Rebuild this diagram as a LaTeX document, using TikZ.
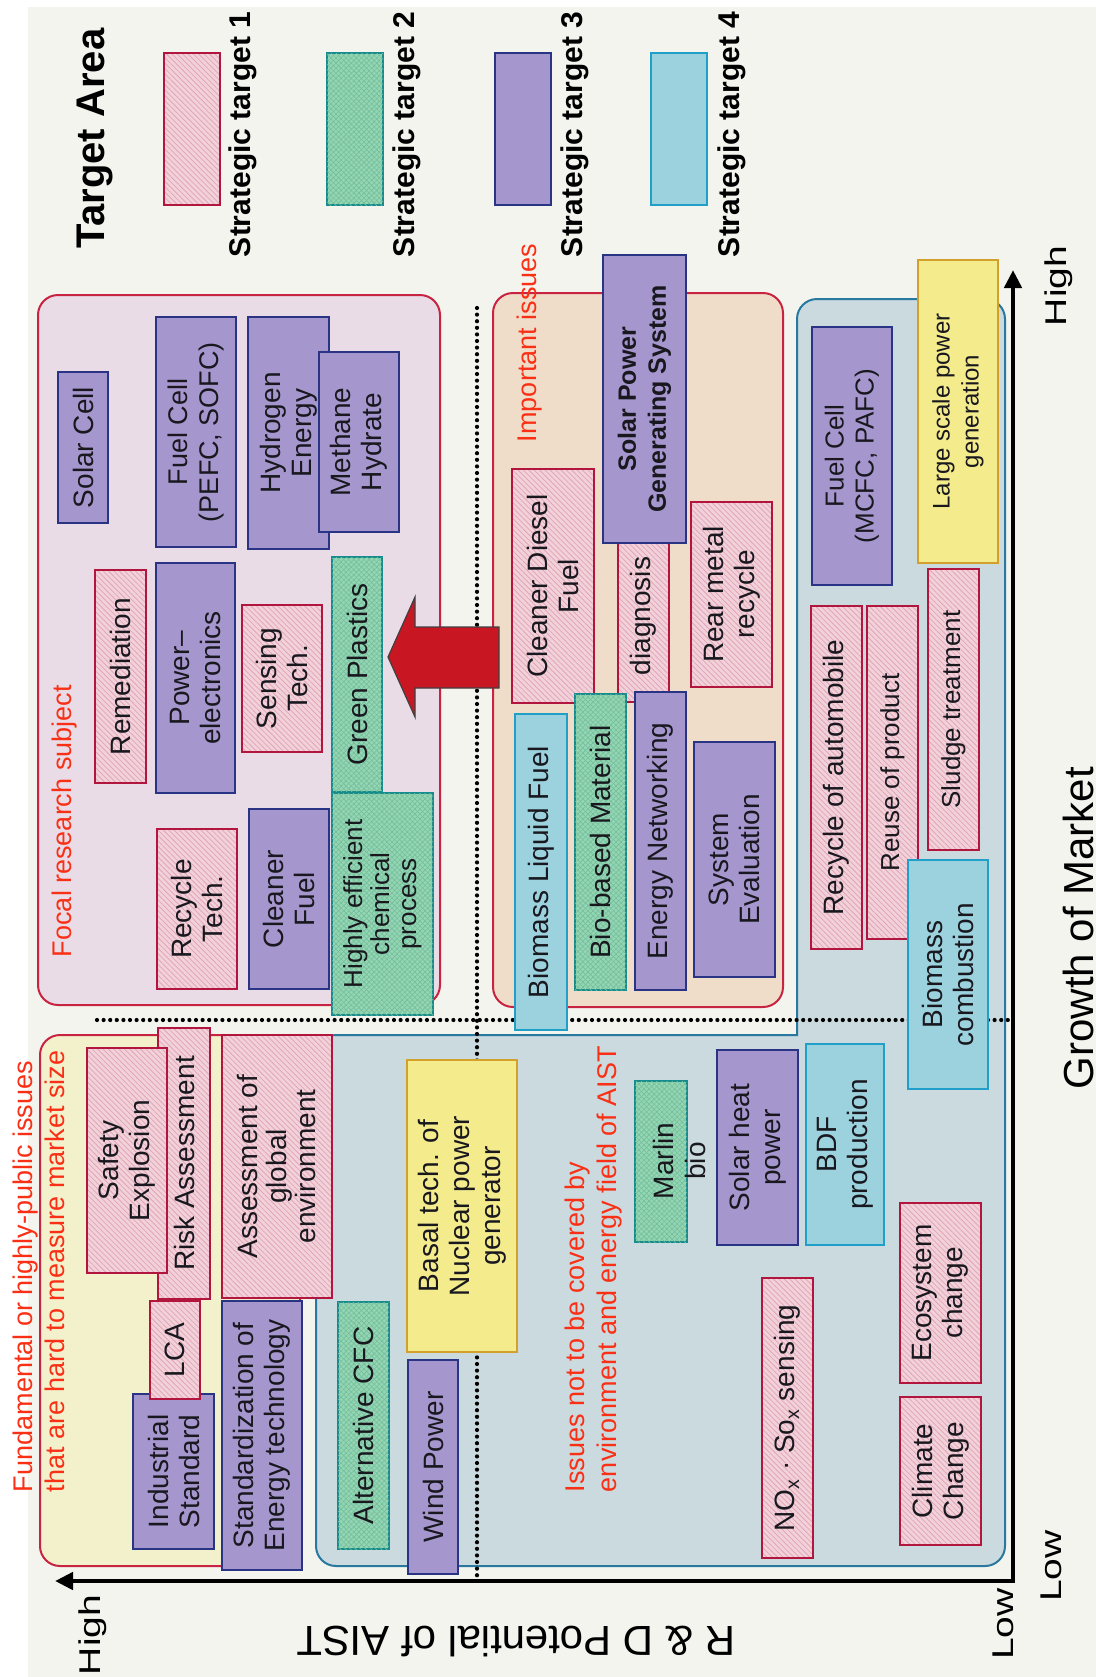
\documentclass[tikz,border=0pt]{standalone}
\usepackage{fontspec}
\setmainfont{Liberation Sans}
\newfontfamily\widefont{Liberation Sans}[FakeStretch=1.3]
\usetikzlibrary{arrows.meta,patterns.meta}

\definecolor{paper}{RGB}{244,244,239}
\definecolor{pinkfill}{RGB}{242,210,218}
\definecolor{pinkhatch}{RGB}{226,164,182}
\definecolor{pinkline}{RGB}{178,22,62}
\definecolor{greenfill}{RGB}{148,214,180}
\definecolor{greenhatch}{RGB}{116,190,156}
\definecolor{greenline}{RGB}{22,140,140}
\definecolor{purplefill}{RGB}{166,150,206}
\definecolor{purpleline}{RGB}{42,52,132}
\definecolor{cyanfill}{RGB}{156,210,222}
\definecolor{cyanline}{RGB}{32,160,200}
\definecolor{yellowfill}{RGB}{243,235,140}
\definecolor{yellowline}{RGB}{212,160,44}
\definecolor{focalfill}{RGB}{233,220,231}
\definecolor{peachfill}{RGB}{240,221,201}
\definecolor{bluereg}{RGB}{202,218,222}
\definecolor{bluerim}{RGB}{40,120,160}
\definecolor{fundfill}{RGB}{243,241,204}
\definecolor{regionrim}{RGB}{200,36,66}
\definecolor{arrowred}{RGB}{200,22,34}
\definecolor{redtext}{RGB}{250,48,22}
\definecolor{ink}{RGB}{24,24,30}

\newcommand\bxf{\fontsize{14}{15.5}\selectfont}

\tikzset{
  every node/.style={inner sep=0pt,outer sep=0pt},
  box/.style={rotate=90,align=center,line width=1.1pt,font=\bxf,text=ink},
  pinkbox/.style={box,draw=pinkline,preaction={fill=pinkfill},
    pattern={Lines[angle=-45,distance=1.9pt,line width=0.4pt]},pattern color=pinkhatch},
  greenbox/.style={box,draw=greenline,preaction={fill=greenfill},
    pattern={Lines[angle=45,distance=1.8pt,line width=0.3pt]},pattern color=greenhatch,
    postaction={pattern={Lines[angle=-45,distance=1.8pt,line width=0.3pt]},pattern color=greenhatch}},
  purplebox/.style={box,draw=purpleline,fill=purplefill},
  cyanbox/.style={box,draw=cyanline,fill=cyanfill},
  yellowbox/.style={box,draw=yellowline,fill=yellowfill},
  region/.style={line width=1pt,rounded corners=10pt},
  redlabel/.style={rotate=90,anchor=west,align=left,text=redtext,
    font=\fontsize{13.5}{16}\selectfont},
  legendtext/.style={rotate=90,anchor=west,text=black,
    font=\bfseries\fontsize{15}{18}\selectfont},
  ticklabel/.style={rotate=90,text=black,font=\widefont\fontsize{15}{18}\selectfont},
  dotline/.style={line width=2.1pt,dash pattern=on 0pt off 3.3pt,line cap=round},
  axis/.style={line width=2.3pt,line join=miter,
    {Triangle[length=9pt,width=8.5pt]}-{Triangle[length=9pt,width=8.5pt]}},
}

% box: [extra]{style}{name}{x1}{y1}{x2}{y2}{text}, text turned a quarter turn
\newcommand\tb[8][]{\node[#2,minimum width={(#7-#5)*0.5pt},
  minimum height={(#6-#4)*0.5pt},#1] (#3) at ({(#4+#6)/2},{(#5+#7)/2}) {#8};}

\begin{document}
\begin{tikzpicture}[x=0.5pt,y=-0.5pt]
\useasboundingbox (0,0) rectangle (1096,1677);
\fill[white] (0,0) rectangle (1096,1677);
\fill[paper] (28,7) rectangle (1096,1677);

% ---- legend
\node[rotate=90,anchor=west,font=\bfseries\fontsize{20}{24}\selectfont] (legendtitle) at (95,248) {Target Area};
\tb{pinkbox}{leg1}{164}{53}{220}{205}{}
\tb{greenbox}{leg2}{327}{53}{383}{205}{}
\tb{purplebox}{leg3}{495}{53}{551}{205}{}
\tb{cyanbox}{leg4}{651}{53}{707}{205}{}
\node[legendtext] (legt1) at (243,257) {Strategic target 1};
\node[legendtext] (legt2) at (407,257) {Strategic target 2};
\node[legendtext] (legt3) at (575,257) {Strategic target 3};
\node[legendtext] (legt4) at (732,257) {Strategic target 4};

% ---- areas
\draw[region,draw=regionrim,fill=focalfill] (38,295) rectangle (440,1005);
\draw[region,draw=regionrim,fill=peachfill] (493,293) rectangle (783,1007);
\draw[region,draw=regionrim,fill=fundfill] (40,1035) rectangle (300,1566);
\draw[region,draw=bluerim,fill=bluereg,line cap=rect]
  (797,1035) -- (797,299) -- (1005,299) -- (1005,1566) -- (316,1566) -- (316,1035) -- (797,1035);

% ---- dividing dotted lines
\coordinate (vtop) at (477,308);
\coordinate (vbot) at (477,1576);
\coordinate (hleft) at (97,1020);
\coordinate (hright) at (1010,1020);
\draw[dotline] (vtop) -- (vbot);
\draw[dotline] (hleft) -- (hright);

% ---- area captions
\node[redlabel] (focalcap) at (65,957) {Focal research subject};
\node[redlabel] (importantcap) at (530,442) {Important issues};
\node[redlabel] (notcoveredcap) at (594,1492) {Issues not to be covered by\\environment and energy field of AIST};
\node[redlabel] (fundcap) at (39,1492) {Fundamental or highly-public issues\\that are hard to measure market size};

% ---- focal research subject
\tb{purplebox}{solarcell}{58}{372}{108}{523}{Solar Cell}
\tb[font=\fontsize{13.5}{15.5}\selectfont]{purplebox}{fuelcellpe}{156}{317}{236}{547}{Fuel Cell\\(PEFC, SOFC)}
\tb{purplebox}{hydrogen}{248}{317}{329}{549}{Hydrogen\\Energy}
\tb{purplebox}{methane}{319}{352}{399}{532}{Methane\\Hydrate}
\tb{pinkbox}{remediation}{95}{570}{146}{783}{Remediation}
\tb{purplebox}{powerel}{156}{563}{235}{793}{Power–\\electronics}
\tb{pinkbox}{sensing}{242}{605}{322}{752}{Sensing\\Tech.}
\tb{greenbox}{greenplastics}{332}{557}{382}{792}{Green Plastics}
\tb{pinkbox}{recycletech}{157}{829}{237}{989}{Recycle\\Tech.}
\tb{purplebox}{cleanerfuel}{249}{809}{329}{989}{Cleaner\\Fuel}
\tb[font=\fontsize{13}{13.5}\selectfont]{greenbox}{chemproc}{332}{793}{433}{1015}{Highly efficient\\chemical\\process}

% ---- important issues
\tb{pinkbox}{cleanerdiesel}{512}{469}{594}{703}{Cleaner Diesel\\Fuel}
\tb{pinkbox}{diagnosis}{618}{530}{669}{702}{diagnosis}
\tb[font=\bfseries\fontsize{12.5}{15}\selectfont]{purplebox}{solarpower}{603}{255}{686}{543}{Solar Power\\Generating System}
\tb{pinkbox}{rearmetal}{691}{502}{772}{687}{Rear metal\\recycle}
\tb{cyanbox}{bioliquid}{515}{714}{567}{1030}{Biomass Liquid Fuel}
\tb{greenbox}{biomaterial}{575}{694}{626}{990}{Bio-based Material}
\tb{purplebox}{energynet}{635}{692}{686}{990}{Energy Networking}
\tb{purplebox}{syseval}{694}{742}{775}{977}{System\\Evaluation}

% ---- market-side issues
\tb[font=\fontsize{13}{15}\selectfont]{purplebox}{fuelcellmc}{812}{327}{892}{585}{Fuel Cell\\(MCFC, PAFC)}
\tb[font=\fontsize{12}{14.5}\selectfont]{yellowbox}{largescale}{918}{260}{998}{563}{Large scale power\\generation}
\tb{pinkbox}{recycleauto}{811}{606}{862}{949}{Recycle of automobile}
\tb[font=\fontsize{13}{15}\selectfont]{pinkbox}{reuse}{867}{606}{918}{939}{Reuse of product}
\tb[font=\fontsize{13}{15}\selectfont]{pinkbox}{sludge}{928}{569}{979}{850}{Sludge treatment}
\tb{cyanbox}{biocomb}{908}{860}{988}{1089}{Biomass\\combustion}

% ---- issues outside the field
\tb{greenbox}{marlin}{635}{1081}{687}{1242}{}
\node[rotate=90,align=center,font=\fontsize{14}{16}\selectfont,text=ink] (marlintext) at (679,1161) {Marlin\\bio};
\tb{purplebox}{solarheat}{717}{1050}{798}{1245}{Solar heat\\power}
\tb{cyanbox}{bdf}{806}{1044}{884}{1245}{BDF\\production}
\tb{pinkbox}{noxsox}{762}{1278}{813}{1558}{NO\textsubscript{x} · So\textsubscript{x} sensing}
\tb{pinkbox}{ecosystem}{900}{1203}{981}{1383}{Ecosystem\\change}
\tb{pinkbox}{climate}{900}{1397}{981}{1545}{Climate\\Change}
\tb{yellowbox}{nuclear}{407}{1060}{517}{1352}{Basal tech. of\\Nuclear power\\generator}
\tb{purplebox}{wind}{408}{1360}{458}{1574}{Wind Power}
\tb{greenbox}{altcfc}{338}{1302}{389}{1549}{Alternative CFC}

% ---- fundamental issues
\tb{pinkbox}{risk}{158}{1028}{210}{1299}{Risk Assessment}
\tb{pinkbox}{safety}{87}{1048}{167}{1273}{Safety\\Explosion}
\tb{purplebox}{industrial}{133}{1394}{214}{1549}{Industrial\\Standard}
\tb{pinkbox}{lca}{150}{1301}{200}{1399}{LCA}
\tb[font=\fontsize{14}{14.5}\selectfont]{pinkbox}{globalenv}{222}{1035}{332}{1298}{Assessment of\\global\\environment}
\tb{purplebox}{standard}{222}{1301}{302}{1570}{Standardization of\\Energy technology}

% ---- shift arrow towards the focal subjects
\draw[fill=arrowred,draw=black!75,line width=0.6pt,line join=miter]
  (388,657) -- (415,597) -- (415,627) -- (499,627) -- (499,688) -- (415,688) -- (415,717) -- cycle;

% ---- axes
\coordinate (origin) at (1013,1581);
\coordinate (ytip) at (55,1581);
\coordinate (xtip) at (1013,270);
\draw[axis] (ytip) -- (origin) -- (xtip);
\node[ticklabel] (xhigh) at (1059,286) {High};
\node[ticklabel] (xlow) at (1051,1566) {Low};
\node[ticklabel] (yhigh) at (93,1635) {High};
\node[ticklabel] (ylow) at (1003,1624) {Low};
\node[rotate=90,font=\fontsize{21}{24}\selectfont] (xname) at (1078,928) {Growth of Market};
\node[rotate=180,font=\fontsize{21}{24}\selectfont] (yname) at (516,1641) {R \& D Potential of AIST};
\end{tikzpicture}
\end{document}
